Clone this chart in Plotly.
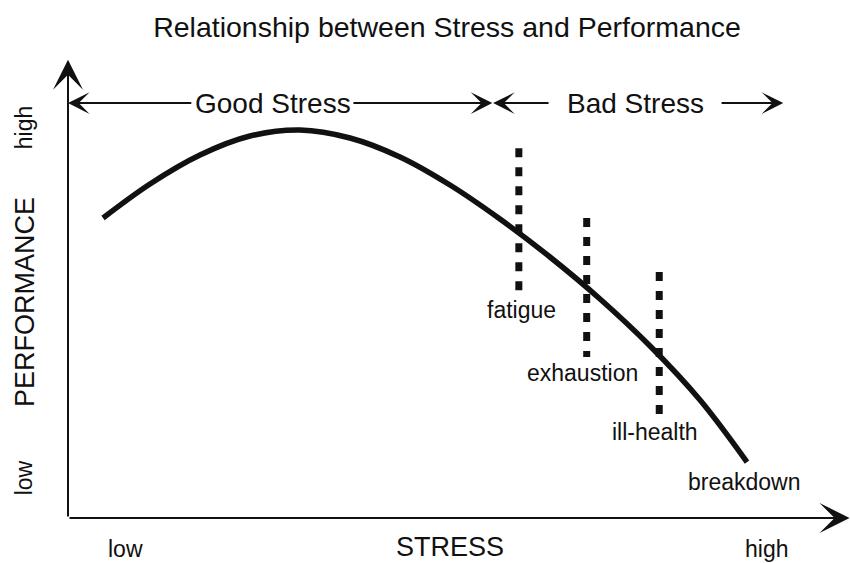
import plotly.graph_objects as go

# ---- data (stress on x, performance on y; 0..100 conceptual scale) ----
curve_stress = [4.49, 10.51, 16.92, 23.33, 29.74, 36.15, 42.56, 48.97, 55.38, 61.79, 68.21, 74.62, 81.03, 87.05]
curve_perf   = [65.22, 72.61, 78.91, 83.04, 84.35, 82.61, 78.48, 72.39, 65.00, 56.74, 47.61, 37.39, 25.65, 12.17]

stage_names  = ["fatigue", "exhaustion", "ill-health"]
stage_x      = [57.8, 66.5, 75.8]
stage_top    = [80.4, 65.2, 53.5]
stage_bottom = [48.9, 35.0, 22.4]
stage_label_x = [58.2, 66.0, 75.3]
stage_label_y = [45.2, 31.5, 18.7]

end_label = "breakdown"
end_label_pos = (86.7, 7.8)

zone_names = ["Good Stress", "Bad Stress"]
zone_label_x = [26.3, 72.7]
zone_y = 90.2
# arrow segments: (from_x, to_x)
zone_arrows = [(16.0, 0.0), (36.4, 54.4), (61.8, 54.5), (83.6, 91.7)]

x_tick_labels = ["low", "high"]
x_tick_pos = [7.4, 89.6]
y_tick_labels = ["low", "high"]
y_tick_pos = [8.7, 84.8]

title_text = "Relationship between Stress and Performance"
x_title = "STRESS"
y_title = "PERFORMANCE"

FONT = "Liberation Sans, Arial, Helvetica, sans-serif"
INK = "#111111"

fig = go.Figure()

# main curve
fig.add_trace(go.Scatter(
    x=curve_stress, y=curve_perf, mode="lines",
    line=dict(color=INK, width=5.5, shape="spline", smoothing=1.0),
    hoverinfo="skip", showlegend=False))

# dotted stage lines
for sx, top, bot in zip(stage_x, stage_top, stage_bottom):
    fig.add_trace(go.Scatter(
        x=[sx, sx], y=[top, bot], mode="lines",
        line=dict(color=INK, width=7, dash="9px,10px"),
        hoverinfo="skip", showlegend=False))

ann = []
# axes as arrows
ann.append(dict(x=0, y=99.6, ax=0, ay=0, xref="x", yref="y", axref="x", ayref="y",
                text="", showarrow=True, arrowhead=3, arrowsize=2.5, arrowwidth=2,
                arrowcolor=INK, standoff=0, startstandoff=0))
ann.append(dict(x=100.2, y=0, ax=0, ay=0, xref="x", yref="y", axref="x", ayref="y",
                text="", showarrow=True, arrowhead=3, arrowsize=2.5, arrowwidth=2,
                arrowcolor=INK, standoff=0, startstandoff=0))

# zone arrows
for fx, tx in zone_arrows:
    ann.append(dict(x=tx, y=zone_y, ax=fx, ay=zone_y, xref="x", yref="y", axref="x", ayref="y",
                    text="", showarrow=True, arrowhead=3, arrowsize=1.8, arrowwidth=2,
                    arrowcolor=INK, standoff=0, startstandoff=0))
for name, zx in zip(zone_names, zone_label_x):
    ann.append(dict(x=zx, y=zone_y, xref="x", yref="y", text=name, showarrow=False,
                    font=dict(family=FONT, size=28, color=INK), xanchor="center", yanchor="middle"))

# stage labels
for name, lx, ly in zip(stage_names, stage_label_x, stage_label_y):
    ann.append(dict(x=lx, y=ly, xref="x", yref="y", text=name, showarrow=False,
                    font=dict(family=FONT, size=23, color=INK), xanchor="center", yanchor="middle"))
ann.append(dict(x=end_label_pos[0], y=end_label_pos[1], xref="x", yref="y", text=end_label,
                showarrow=False, font=dict(family=FONT, size=23, color=INK),
                xanchor="center", yanchor="middle"))

# axis tick-like labels
for lab, px in zip(x_tick_labels, x_tick_pos):
    ann.append(dict(x=px, y=-6.7, xref="x", yref="y", text=lab, showarrow=False,
                    font=dict(family=FONT, size=23, color=INK), xanchor="center", yanchor="middle"))
for lab, py in zip(y_tick_labels, y_tick_pos):
    ann.append(dict(x=-5.6, y=py, xref="x", yref="y", text=lab, showarrow=False, textangle=-90,
                    font=dict(family=FONT, size=23, color=INK), xanchor="center", yanchor="middle"))

# axis titles
ann.append(dict(x=49.0, y=-6.3, xref="x", yref="y", text=x_title, showarrow=False,
                font=dict(family=FONT, size=27, color=INK), xanchor="center", yanchor="middle"))
ann.append(dict(x=-5.5, y=47.0, xref="x", yref="y", text=y_title, showarrow=False, textangle=-90,
                font=dict(family=FONT, size=27, color=INK), xanchor="center", yanchor="middle"))

# plot area spans the whole figure; axis origin sits at (68px, 518px)
fig.update_layout(
    width=850, height=563,
    margin=dict(l=0, r=0, t=0, b=0, pad=0),
    paper_bgcolor="white", plot_bgcolor="white",
    title=dict(text=title_text, x=447/850, xanchor="center", y=1 - 27/563, yanchor="middle",
               font=dict(family=FONT, size=28.5, color=INK)),
    xaxis=dict(range=[-68/7.8, 782/7.8], visible=False, fixedrange=True),
    yaxis=dict(range=[-45/4.6, 518/4.6], visible=False, fixedrange=True),
    annotations=ann,
    showlegend=False,
)

fig.write_html("out.html", config={"displayModeBar": False},
               post_script="document.body.style.margin='0';")
